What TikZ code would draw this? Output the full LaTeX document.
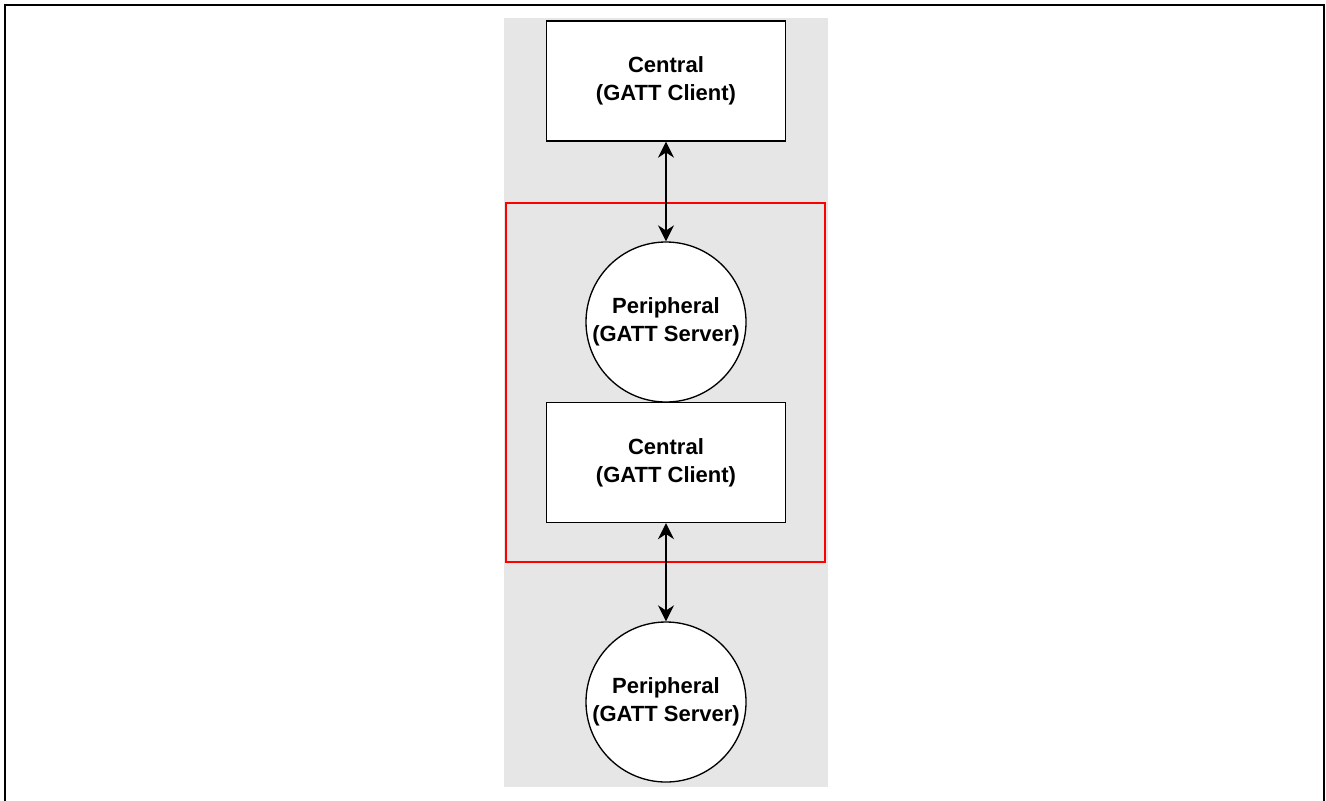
\documentclass[tikz,border=0pt]{standalone}
\usepackage{fontspec}
\setmainfont{Liberation Sans}
\usetikzlibrary{arrows.meta,backgrounds}
\definecolor{lane}{RGB}{230, 230, 230}
\definecolor{frame}{RGB}{255, 0, 0}

\begin{document}
\begin{tikzpicture}[x=0.75pt, y=-0.75pt,
    every node/.style={font=\bfseries\fontsize{16.5}{21}\selectfont, align=center},
    role/.style={draw=black, line width=1pt, fill=white, inner sep=0pt},
    centralbox/.style={role, rectangle, minimum width=179pt, minimum height=90pt},
    peripheralbox/.style={role, circle, minimum size=120pt},
    link/.style={{Stealth[length=12pt, width=12pt]}-{Stealth[length=12pt, width=12pt]}, line width=1.5pt, black},
  ]
  \useasboundingbox (0,0) rectangle (1326,800);
  % outer frame (bottom edge cut off)
  \draw[line width=1.8pt] (5,805) -- (5,5) -- (1324,5) -- (1324,805);
  % grey lane
  \fill[lane] (504,18) rectangle (828,787);
  % red group
  \draw[frame, line width=1.5pt] (506,203) rectangle (825,562);

  \node[centralbox] (central1) at (666,81) {Central\\(GATT Client)};
  \node[peripheralbox] (peripheral1) at (666,322) {Peripheral\\(GATT Server)};
  \node[centralbox] (central2) at (666,462.5) {Central\\(GATT Client)};
  \node[peripheralbox] (peripheral2) at (666,702) {Peripheral\\(GATT Server)};

  \draw[link] (central1.south) -- (peripheral1.north);
  \draw[link] (central2.south) -- (peripheral2.north);
\end{tikzpicture}
\end{document}
